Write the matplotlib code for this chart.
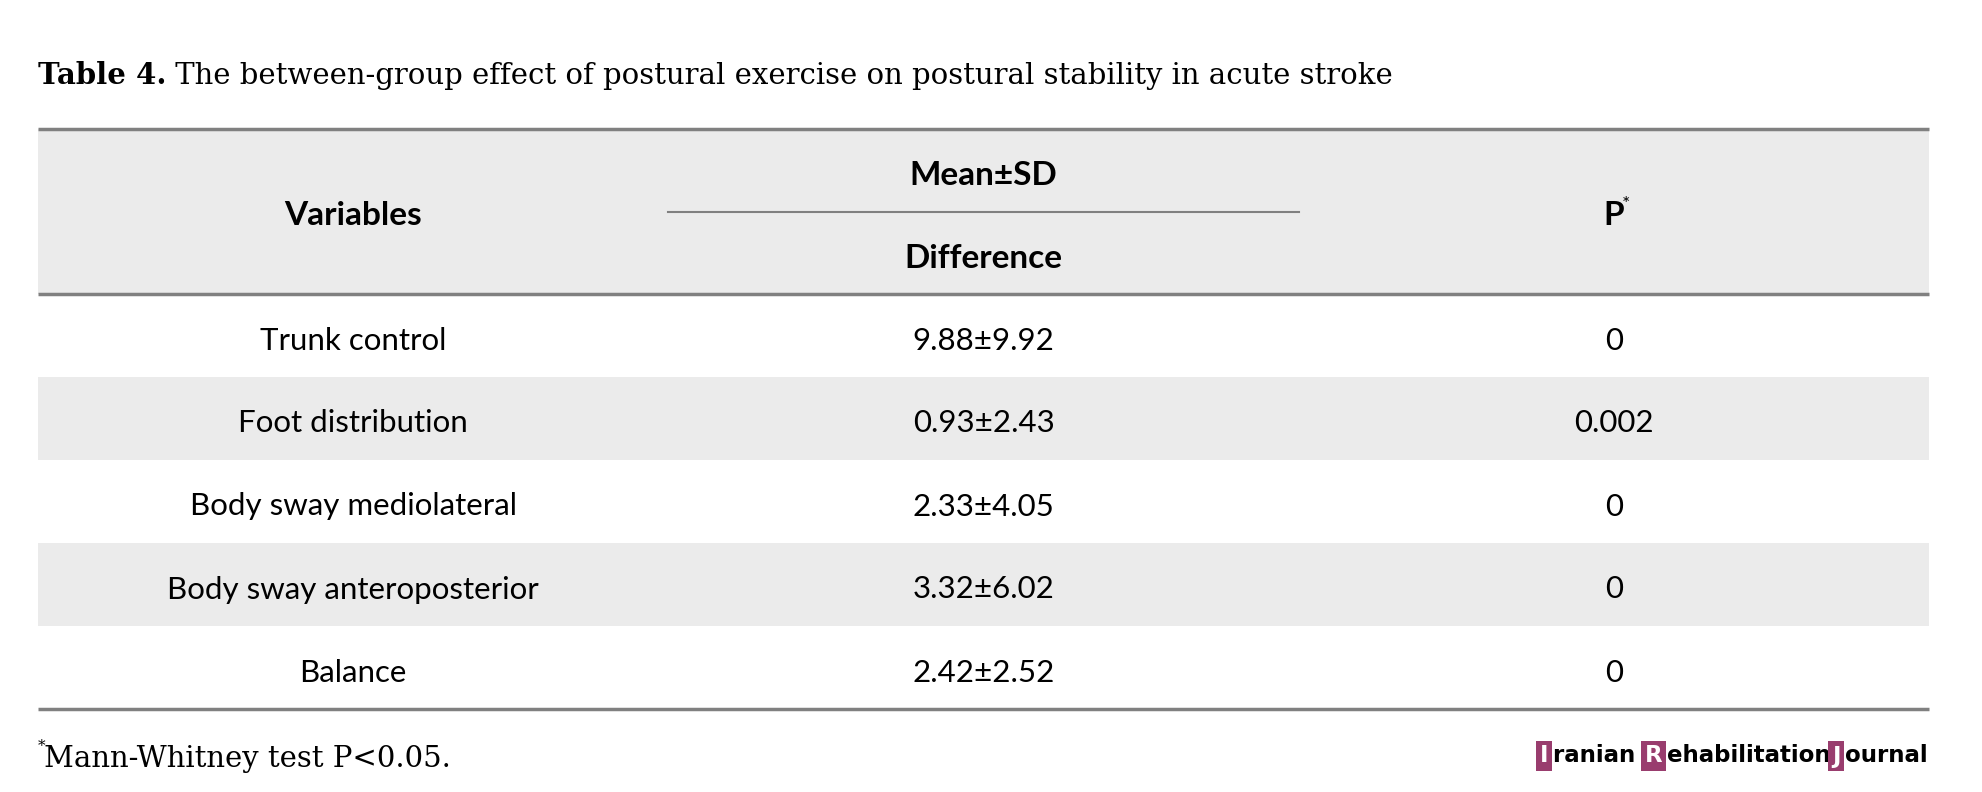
import matplotlib.pyplot as plt
from matplotlib.patches import Rectangle

# Table 4 values
variables = ["Trunk control", "Foot distribution", "Body sway mediolateral",
             "Body sway anteroposterior", "Balance"]
diff_mean = [9.88, 0.93, 2.33, 3.32, 2.42]
diff_sd = [9.92, 2.43, 4.05, 6.02, 2.52]
p_values = ["0", "0.002", "0", "0", "0"]

title_bold = "Table 4."
title_rest = " The between-group effect of postural exercise on postural stability in acute stroke"
footnote = "Mann-Whitney test P<0.05."

SERIF = ["DejaVu Serif"]
SANS = ["Lato", "DejaVu Sans"]
GRAY_BG = "#ebebeb"
RULE = "#808080"
PURPLE = "#993d6e"

W, H = 1983, 792
fig = plt.figure(figsize=(W / 100, H / 100), dpi=100)
ax = fig.add_axes([0, 0, 1, 1])
ax.set_xlim(0, W)
ax.set_ylim(H, 0)
ax.axis("off")

left, right = 38, 1929
top = 129
head_h = 165
row_h = 83
col_w = (right - left) / 3
centers = [left + col_w * (i + 0.5) for i in range(3)]

# title
renderer = fig.canvas.get_renderer()
t = ax.text(left, 84, title_bold, fontsize=21, fontweight="bold", family=SERIF,
            va="baseline", ha="left")
bb = t.get_window_extent(renderer).transformed(ax.transData.inverted())
ax.text(bb.x1, 84, title_rest, fontsize=21, family=SERIF, va="baseline", ha="left")

# header band
ax.add_patch(Rectangle((left, top), right - left, head_h, color=GRAY_BG, lw=0))
hc = top + head_h / 2 + 4
ax.text(centers[0], hc, "Variables", fontsize=24, fontweight="bold",
        family=SANS, ha="center", va="center")
ax.text(centers[1], top + head_h * 0.26 + 4, "Mean±SD", fontsize=24, fontweight="bold",
        family=SANS, ha="center", va="center")
ax.text(centers[1], top + head_h * 0.76 + 4, "Difference", fontsize=24, fontweight="bold",
        family=SANS, ha="center", va="center")
ax.plot([left + col_w, left + 2 * col_w], [top + head_h * 0.5] * 2, color=RULE, lw=1.5)
ax.text(centers[2], hc, "P", fontsize=24, fontweight="bold",
        family=SANS, ha="center", va="center")
ax.annotate("*", (centers[2], hc), xytext=(6, 8), textcoords="offset points",
            fontsize=14, family=SANS, ha="left", va="center")

# body rows
body_top = top + head_h
for i, name in enumerate(variables):
    y0 = body_top + i * row_h
    if i % 2 == 1:
        ax.add_patch(Rectangle((left, y0), right - left, row_h, color=GRAY_BG, lw=0))
    yc = y0 + row_h / 2 + 5
    ax.text(centers[0], yc, name, fontsize=22.5, family=SANS, ha="center", va="center")
    ax.text(centers[1], yc, f"{diff_mean[i]:.2f}±{diff_sd[i]:.2f}", fontsize=22.5,
            family=SANS, ha="center", va="center")
    ax.text(centers[2], yc, p_values[i], fontsize=22.5, family=SANS, ha="center", va="center")

bottom = body_top + len(variables) * row_h
for y in [top, body_top, bottom]:
    ax.plot([left, right], [y, y], color=RULE, lw=2.5, solid_capstyle="butt")

# footnote
ax.annotate("*", (left, 767), xytext=(0, 12), textcoords="offset points",
            fontsize=11, family=SERIF, ha="left", va="baseline")
ax.text(left + 6, 767, footnote, fontsize=21, family=SERIF, ha="left", va="baseline")

# journal logo, built left to right and then shifted to end at the right rule
pieces = [("I", True), ("ranian ", False), ("R", True), ("ehabilitation", False),
          ("J", True), ("ournal", False)]
logo_y = 756
texts = []
x = 0
for s, boxed in pieces:
    kw = dict(fontsize=16.5, fontweight="bold", family=["DejaVu Sans"], ha="left", va="center")
    if boxed:
        tt = ax.text(x, logo_y, s, color="white",
                     bbox=dict(boxstyle="square,pad=0.15", fc=PURPLE, ec="none"), **kw)
    else:
        tt = ax.text(x, logo_y, s, color="black", **kw)
    bb = tt.get_window_extent(renderer).transformed(ax.transData.inverted())
    texts.append(tt)
    x = bb.x1 + (5 if boxed else 1)
shift = right - x
for tt in texts:
    px, py = tt.get_position()
    tt.set_position((px + shift, py))

fig.savefig("out.png", dpi=100)
